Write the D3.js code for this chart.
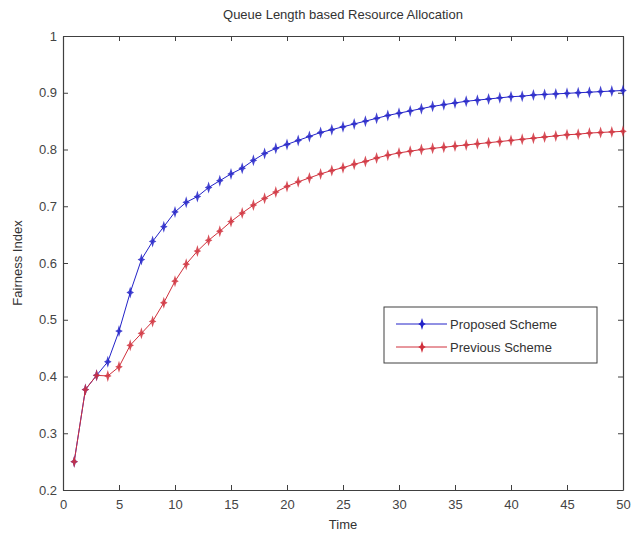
<!DOCTYPE html>
<html>
<head>
<meta charset="utf-8">
<script src="https://cdn.jsdelivr.net/npm/d3@7/dist/d3.min.js"></script>
<style>
    body { margin: 0; background: #fff; }
    svg { display: block; font-family: 'Liberation Sans', Arial, sans-serif; }
</style>
</head>
<body>
<svg width="632" height="537"></svg>
<script>
// Data
const time = d3.range(1, 51);
const proposed = [
    0.25, 0.377, 0.402, 0.426, 0.48, 0.548, 0.606, 0.638, 0.664, 0.69,
    0.707, 0.717, 0.733, 0.745, 0.757, 0.767, 0.781, 0.793, 0.802, 0.809,
    0.816, 0.823, 0.83, 0.835, 0.84, 0.845, 0.85, 0.855, 0.86, 0.864,
    0.868, 0.872, 0.876, 0.879, 0.882, 0.885, 0.887, 0.889, 0.891, 0.893,
    0.894, 0.896, 0.897, 0.898, 0.899, 0.9, 0.901, 0.902, 0.903, 0.904
];
const previous = [
    0.25, 0.377, 0.402, 0.401, 0.417, 0.455, 0.476, 0.497, 0.53, 0.568,
    0.598, 0.621, 0.64, 0.656, 0.673, 0.688, 0.702, 0.714, 0.725, 0.735,
    0.743, 0.75, 0.757, 0.763, 0.768, 0.774, 0.779, 0.785, 0.79, 0.794,
    0.797, 0.8, 0.802, 0.804, 0.806, 0.808, 0.81, 0.812, 0.814, 0.816,
    0.818, 0.82, 0.822, 0.824, 0.826, 0.827, 0.829, 0.83, 0.831, 0.832
];
const xTicks = [0, 5, 10, 15, 20, 25, 30, 35, 40, 45, 50];
const yTicks = [0.2, 0.3, 0.4, 0.5, 0.6, 0.7, 0.8, 0.9, 1];
const seriesNames = ['Proposed Scheme', 'Previous Scheme'];
const seriesColors = ['#2222c8', '#d0303c'];

const svg = d3.select('svg');
const margin = { left: 63, right: 9, top: 36, bottom: 47 };
const width = 632, height = 537;

const x = d3.scaleLinear().domain([0, 50]).range([margin.left, width - margin.right]);
const y = d3.scaleLinear().domain([0.2, 1]).range([height - margin.bottom, margin.top]);

const axisColor = '#404040';
const tickLen = 5;

// Axes: bottom/left with labels, top/right ticks only (MATLAB box)
const gx = svg.append('g')
    .attr('transform', `translate(0,${y(0.2)})`)
    .call(d3.axisBottom(x).tickValues(xTicks).tickSizeInner(-tickLen).tickSizeOuter(0).tickPadding(10)
        .tickFormat(d3.format('d')));
const gxt = svg.append('g')
    .attr('transform', `translate(0,${y(1)})`)
    .call(d3.axisTop(x).tickValues(xTicks).tickSizeInner(-tickLen).tickSizeOuter(0).tickFormat(''));
const gy = svg.append('g')
    .attr('transform', `translate(${x(0)},0)`)
    .call(d3.axisLeft(y).tickValues(yTicks).tickSizeInner(-tickLen).tickSizeOuter(0).tickPadding(6)
        .tickFormat((d) => (d === 1 ? '1' : d3.format('.1f')(d))));
const gyr = svg.append('g')
    .attr('transform', `translate(${x(50)},0)`)
    .call(d3.axisRight(y).tickValues(yTicks).tickSizeInner(-tickLen).tickSizeOuter(0).tickFormat(''));

[gx, gxt, gy, gyr].forEach((g) => {
    g.select('.domain').attr('stroke', axisColor).attr('stroke-width', 1.2);
    g.selectAll('.tick line').attr('stroke', axisColor).attr('stroke-width', 1);
    g.selectAll('.tick text').attr('fill', '#444').style('font-size', '13px');
});

// Series
const line = d3.line().x((d, i) => x(time[i])).y((d) => y(d));
const marker = 'M0,-6L1.4,-1.4L3.8,0L1.4,1.4L0,6L-1.4,1.4L-3.8,0L-1.4,-1.4Z';

[proposed, previous].forEach((vals, k) => {
    const g = svg.append('g');
    g.append('path')
        .datum(vals)
        .attr('d', line)
        .attr('fill', 'none')
        .attr('stroke', seriesColors[k])
        .attr('stroke-width', 1);
    g.selectAll('path.mk')
        .data(vals)
        .enter()
        .append('path')
        .attr('class', 'mk')
        .attr('d', marker)
        .attr('transform', (d, i) => `translate(${x(time[i])},${y(d)})`)
        .attr('fill', seriesColors[k])
        .attr('opacity', 0.85);
});

// Title and axis labels
svg.append('text')
    .attr('x', (x(0) + x(50)) / 2)
    .attr('y', 19)
    .attr('text-anchor', 'middle')
    .attr('fill', '#333')
    .style('font-size', '13px')
    .text('Queue Length based Resource Allocation');
svg.append('text')
    .attr('x', (x(0) + x(50)) / 2)
    .attr('y', 529)
    .attr('text-anchor', 'middle')
    .attr('fill', '#333')
    .style('font-size', '13px')
    .text('Time');
svg.append('text')
    .attr('transform', `translate(22,${(y(0.2) + y(1)) / 2}) rotate(-90)`)
    .attr('text-anchor', 'middle')
    .attr('fill', '#333')
    .style('font-size', '13px')
    .text('Fairness Index');

// Legend
const legend = svg.append('g').attr('transform', 'translate(384,307)');
legend.append('rect')
    .attr('width', 213)
    .attr('height', 56)
    .attr('fill', '#fff')
    .attr('stroke', axisColor)
    .attr('stroke-width', 1);
seriesNames.forEach((name, k) => {
    const ly = 17 + k * 23;
    legend.append('line')
        .attr('x1', 12).attr('x2', 63)
        .attr('y1', ly).attr('y2', ly)
        .attr('stroke', seriesColors[k])
        .attr('stroke-width', 1);
    legend.append('path')
        .attr('d', marker)
        .attr('transform', `translate(38,${ly})`)
        .attr('fill', seriesColors[k]);
    legend.append('text')
        .attr('x', 66)
        .attr('y', ly + 5)
        .attr('fill', '#333')
        .style('font-size', '13px')
        .text(name);
});
</script>
</body>
</html>
